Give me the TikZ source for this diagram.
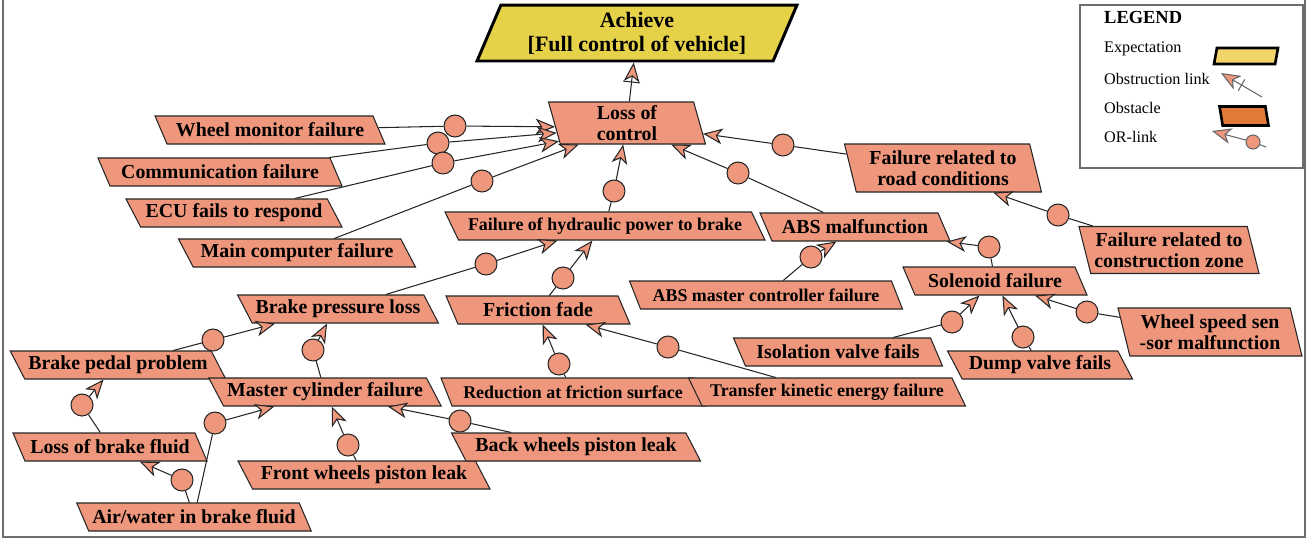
\documentclass[tikz,border=0pt]{standalone}
\usepackage{fontspec}
\setmainfont{Liberation Serif}
\usepackage{tikz}
\usetikzlibrary{arrows.meta,shapes.geometric}

\definecolor{obstfill}{RGB}{239,151,124}
\definecolor{goalfill}{RGB}{230,210,72}
\definecolor{legyellow}{RGB}{242,212,106}
\definecolor{legorange}{RGB}{224,122,53}
\definecolor{framegray}{RGB}{110,110,110}

\begin{document}
\begin{tikzpicture}[x=0.02cm,y=-0.02cm,
  obst/.style={trapezium, trapezium left angle=124, trapezium right angle=56, trapezium stretches body,
    draw=black!85, line width=0.6pt, fill=obstfill, inner xsep=2pt, inner ysep=1pt,
    minimum height=0.56cm, align=center, font=\fontsize{11.3}{12}\selectfont\bfseries},
  obsttwo/.style={obst, trapezium left angle=107, trapezium right angle=73, minimum height=0.96cm},
  small/.style={font=\fontsize{10.2}{11}\selectfont\bfseries},
  goalbox/.style={trapezium, trapezium left angle=66, trapezium right angle=114, trapezium stretches body,
    draw=black, line width=1.7pt, fill=goalfill, align=center, minimum height=1.12cm,
    font=\fontsize{12.5}{13.5}\selectfont\bfseries},
  orc/.style={circle, draw=black!85, fill=obstfill, line width=0.6pt, inner sep=0pt, minimum size=0.44cm},
  link/.style={draw=black!85, line width=0.6pt},
  orlink/.style={link, -{Stealth[length=11pt,width=9pt,inset=3pt,fill=obstfill]}},
  crossbar/.style={draw, line width=0.6pt, inner sep=0pt, minimum width=0pt, minimum height=0.34cm},
  legtext/.style={anchor=west, font=\fontsize{9.2}{10}\selectfont}]
\useasboundingbox (0,0) rectangle (1307,539);
% frame
\draw[framegray, line width=0.8pt] (3,0) -- (3,537) -- (1305,537) -- (1305,0);

% goal
\node[goalbox, minimum width=6.4cm] (goal) at (637,33) {Achieve\\{[Full control of vehicle]}};

% obstacles
\node[obsttwo, minimum width=3.14cm, minimum height=0.84cm] (loc) at (627,123) {Loss of\\control};
\node[obst, minimum width=4.6cm] (wmf) at (270,130) {Wheel monitor failure};
\node[obst, minimum width=4.88cm] (comf) at (220,172) {Communication failure};
\node[obst, minimum width=4.32cm] (ecu) at (234,213) {ECU fails to respond};
\node[obst, minimum width=4.74cm] (mcf) at (297,253) {Main computer failure};
\node[obst, small, minimum width=6.4cm] (fhp) at (605,226) {Failure of hydraulic power to brake};
\node[obst, minimum width=3.8cm] (absm) at (855,227) {ABS malfunction};
\node[obsttwo, minimum width=3.94cm] (road) at (943,168) {Failure related to\\road conditions};
\node[obsttwo, minimum width=3.44cm, minimum height=0.94cm] (constr) at (1169,250) {Failure related to\\construction zone};
\node[obst, small, minimum width=5.46cm] (absmc) at (766,295) {ABS master controller failure};
\node[obst, minimum width=3.68cm] (sol) at (995,281) {Solenoid failure};
\node[obsttwo, minimum width=3.68cm] (wss) at (1210,332) {Wheel speed sen\\-sor malfunction};
\node[obst, minimum width=3.7cm] (dump) at (1040,365) {Dump valve fails};
\node[obst, minimum width=4.18cm] (iso) at (838,352) {Isolation valve fails};
\node[obst, minimum width=3.68cm] (ffade) at (538,310) {Friction fade};
\node[obst, minimum width=3.98cm] (bpl) at (338,309) {Brake pressure loss};
\node[obst, minimum width=4.0cm] (bpp) at (118,365) {Brake pedal problem};
\node[obst, minimum width=4.3cm] (mcyl) at (325,392) {Master cylinder failure};
\node[obst, minimum width=3.88cm] (lbf) at (110,447) {Loss of brake fluid};
\node[obst, minimum width=4.56cm] (air) at (194,517) {Air/water in brake fluid};
\node[obst, minimum width=5.04cm] (fwpl) at (364,475) {Front wheels piston leak};
\node[obst, minimum width=4.98cm] (bwpl) at (576,447) {Back wheels piston leak};
\node[obst, small, minimum width=5.28cm] (red) at (573,392) {Reduction at friction surface};
\node[obst, small, minimum width=5.54cm] (tke) at (827,392) {Transfer kinetic energy failure};

% obstruction link
\draw[orlink] (loc) -- (goal) node[midway, sloped, crossbar] (xbar) {};

% OR-links: child/parent/circle x/circle y/anchor angle
\foreach \ch/\up/\cx/\cy/\an in {wmf/loc/455/126/183, comf/loc/438/143/188, ecu/loc/443/163/195,
  mcf/loc/482/181/204, fhp/loc/614/191/260, absm/loc/738/173/334, road/loc/783/145/352,
  bpl/fhp/486/264/197, ffade/fhp/563/278/229, bpp/bpl/213/340/193, mcyl/bpl/313/350/233,
  lbf/bpp/82/405/225, air/mcyl/215/423/196, fwpl/mcyl/348/445/295, bwpl/mcyl/460/421/347,
  air/lbf/182/480/334, red/ffade/559/364/288, tke/ffade/668/347/343, absmc/absm/811/257/218,
  sol/absm/989/247/351, iso/sol/952/322/223, dump/sol/1023/337/297, wss/sol/1087/312/340,
  constr/road/1058/215/334}{
  \node[orc] (o-\ch-\up) at (\cx,\cy) {};
  \draw[link] (\ch) -- (o-\ch-\up);
  \draw[orlink] (o-\ch-\up) -- (\up.\an);
}

% legend
\draw[framegray, line width=0.6pt] (1080,5) rectangle (1303,168);
\node[anchor=west, font=\fontsize{10.5}{11}\selectfont\bfseries] (lg-title) at (1098,17) {LEGEND};
\node[legtext] (lg-exp) at (1098,49) {Expectation};
\node[legtext] (lg-obl) at (1098,79) {Obstruction link};
\node[legtext] (lg-obs) at (1098,108) {Obstacle};
\node[legtext] (lg-or) at (1098,137) {OR-link};
\node[trapezium, trapezium left angle=76, trapezium right angle=104, trapezium stretches body,
  draw, line width=1.5pt, fill=legyellow, minimum width=1.28cm, minimum height=0.32cm] (lg-goal) at (1246,56) {};
\node[trapezium, trapezium left angle=105, trapezium right angle=75, trapezium stretches body,
  draw, line width=1.5pt, fill=legorange, minimum width=0.98cm, minimum height=0.38cm] (lg-obst) at (1244,116) {};
\coordinate (lg-ob-s) at (1262,97);
\coordinate (lg-ob-e) at (1221,73);
\draw[orlink, draw=black!60] (lg-ob-s) -- (lg-ob-e) node[midway, sloped, crossbar, draw=black!60, minimum height=0.26cm] (lg-xbar) {};
\node[orc, minimum size=0.28cm, draw=black!60] (lg-orc) at (1253,142) {};
\coordinate (lg-or-s) at (1266,147);
\coordinate (lg-or-e) at (1212,131);
\draw[link, draw=black!60] (lg-or-s) -- (lg-orc);
\draw[orlink, draw=black!60] (lg-orc) -- (lg-or-e);
\end{tikzpicture}
\end{document}
